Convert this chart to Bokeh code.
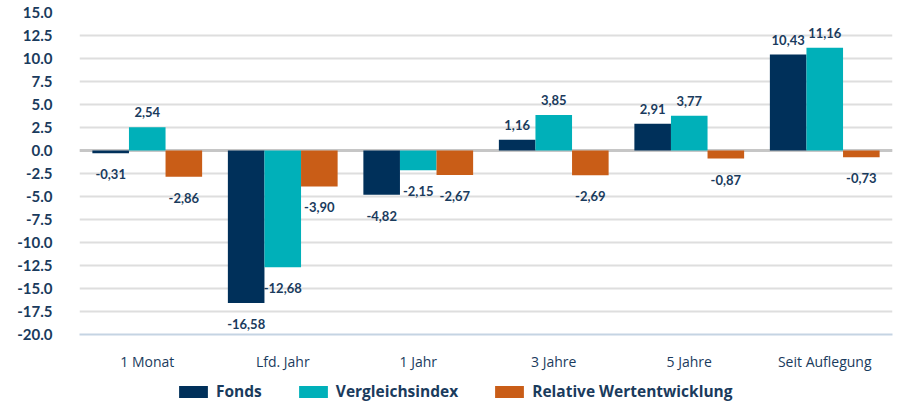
from bokeh.plotting import figure
from bokeh.layouts import column
from bokeh.models import (ColumnDataSource, FactorRange, Range1d, FixedTicker,
                          NumeralTickFormatter, LabelSet, Legend, LegendItem, Span)
from bokeh.core.properties import value
from bokeh.transform import dodge
from bokeh.embed import file_html
from bokeh.resources import INLINE

categories = ["1 Monat", "Lfd. Jahr", "1 Jahr", "3 Jahre", "5 Jahre", "Seit Auflegung"]
series_names = ["Fonds", "Vergleichsindex", "Relative Wertentwicklung"]
fonds = [-0.31, -16.58, -4.82, 1.16, 2.91, 10.43]
vergleichsindex = [2.54, -12.68, -2.15, 3.85, 3.77, 11.16]
relative = [-2.86, -3.90, -2.67, -2.69, -0.87, -0.73]
y_ticks = [-20.0, -17.5, -15.0, -12.5, -10.0, -7.5, -5.0, -2.5, 0.0,
           2.5, 5.0, 7.5, 10.0, 12.5, 15.0]

colors = ["#00305a", "#00b0b9", "#c95d17"]
offsets = [-0.27, 0.0, 0.27]
TEXT = "#1a3b5d"
FONT = "Lato"
FONT2 = "Open Sans"

p = figure(x_range=FactorRange(factors=categories), y_range=Range1d(-20, 15),
           width=893, height=378, output_backend="svg", toolbar_location=None,
           min_border_left=79, min_border_right=1, min_border_top=12,
           min_border_bottom=44)
p.outline_line_color = None
p.background_fill_color = "white"

# grid
p.xgrid.grid_line_color = None
p.ygrid.ticker = FixedTicker(ticks=y_ticks)
p.ygrid.grid_line_color = "#dedede"
p.ygrid.grid_line_width = 2

zero = Span(location=0, dimension="width", line_color="#c6c6c6", line_width=3,
            level="underlay")
p.add_layout(zero)

# y axis
p.yaxis.ticker = FixedTicker(ticks=y_ticks)
p.yaxis.formatter = NumeralTickFormatter(format="0.0")
p.yaxis.axis_line_color = None
p.yaxis.major_tick_line_color = None
p.yaxis.minor_tick_line_color = None
p.yaxis.major_tick_out = 0
p.yaxis.major_label_standoff = 27
p.yaxis.major_label_text_font = FONT
p.yaxis.major_label_text_font_style = "bold"
p.yaxis.major_label_text_font_size = "15px"
p.yaxis.major_label_text_color = TEXT

# x axis
p.xaxis.axis_line_color = "#c5d4e3"
p.xaxis.axis_line_width = 2
p.xaxis.major_tick_line_color = None
p.xaxis.major_tick_out = 0
p.xaxis.major_label_standoff = 17
p.xaxis.major_label_text_font = FONT2
p.xaxis.major_label_text_font_size = "14px"
p.xaxis.major_label_text_color = TEXT

for name, vals, col, off in zip(series_names, [fonds, vergleichsindex, relative], colors, offsets):
    src = ColumnDataSource(dict(
        cat=categories,
        val=vals,
        lab=[("%.2f" % v).replace(".", ",") for v in vals],
        yoff=[15 if v >= 0 else -21 for v in vals],
    ))
    p.vbar(x=dodge("cat", off, range=p.x_range), top="val", bottom=0, width=0.27,
           source=src, fill_color=col, line_color=None)
    labels = LabelSet(x=dodge("cat", off, range=p.x_range), y="val", text="lab",
                      y_offset="yoff", source=src, text_align="center",
                      text_baseline="middle", text_font=value(FONT),
                      text_font_style="bold", text_font_size="13px", text_color=TEXT)
    p.add_layout(labels)

# legend strip
lg = figure(width=893, height=24, output_backend="svg", toolbar_location=None,
            x_axis_type=None, y_axis_type=None, x_range=Range1d(0, 1),
            y_range=Range1d(0, 1), min_border=0)
lg.outline_line_color = None
items = []
for name, col in zip(series_names, colors):
    r = lg.vbar(x=[0], top=[0], bottom=[0], width=0.01, fill_color=col, line_color=None)
    items.append(LegendItem(label=name, renderers=[r]))
legend = Legend(items=items, orientation="horizontal", location=(96, 0),
                label_text_font=FONT2, label_text_font_style="bold",
                label_text_font_size="15.5px", label_text_color=TEXT,
                glyph_width=36, glyph_height=15, label_standoff=5, spacing=33,
                border_line_color=None, background_fill_alpha=0,
                padding=0, margin=0)
lg.add_layout(legend, "center")

layout = column(p, lg, spacing=0)
open("out.html", "w").write(file_html(layout, INLINE))
